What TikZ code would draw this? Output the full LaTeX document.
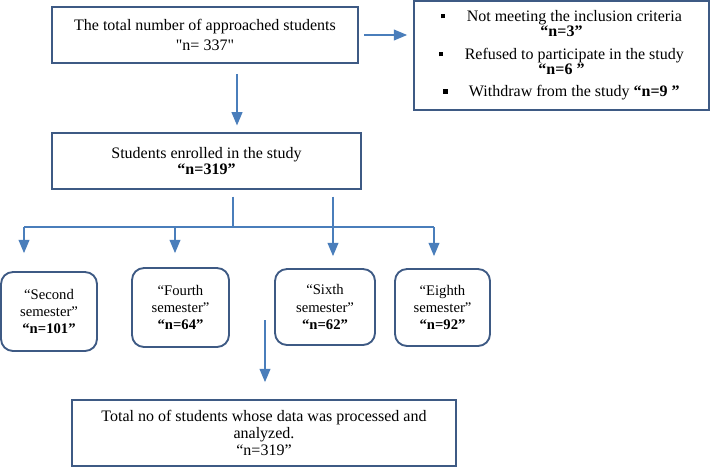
\documentclass[tikz,border=0pt]{standalone}
\usepackage{fontspec}
\setmainfont{Liberation Serif}
\usepackage{tikz}
\usetikzlibrary{arrows}

\definecolor{boxblue}{RGB}{62,90,132}
\definecolor{arrowblue}{RGB}{74,126,187}
\newcommand{\sqbullet}{\raisebox{2.5pt}{\rule{3.2pt}{3.2pt}}\hspace{16pt}}

\begin{document}
\begin{tikzpicture}[x=0.75pt, y=-0.75pt, >=triangle 45, semithick]
  \tikzstyle{every node}=[font=\fontsize{12}{14.5}\selectfont, align=center, inner sep=0pt, text=black]
  \tikzstyle{box}=[draw=boxblue, line width=1.4pt, rectangle]
  \tikzstyle{sem}=[box, rounded corners=9pt, font=\fontsize{11}{13}\selectfont]
  \tikzstyle{line}=[draw=arrowblue, line width=1.3pt]
  \tikzstyle{arr}=[line, ->]

  \useasboundingbox (0,0) rectangle (710,467);

  \node[box, minimum width=229.5pt, minimum height=42pt] (total) at (205,35)
    {The total number of approached students\\\textquotedbl n= 337\textquotedbl};
  \node[box, minimum width=221.25pt, minimum height=82pt] (excl) at (561.5,55.5)
    {\sqbullet Not meeting the inclusion criteria\\[-3pt]
     \textbf{“n=3”}\\[2.5pt]
     \sqbullet Refused to participate in the study\\[-3pt]
     \textbf{“n=6 ”}\\[2pt]
     \sqbullet Withdraw from the study \textbf{“n=9 ”}};
  \node[box, minimum width=231.75pt, minimum height=42pt] (enrolled) at (206.5,161)
    {Students enrolled in the study\\[-3pt]\textbf{“n=319”}};

  \node[sem, minimum width=72pt, minimum height=59.25pt] (sem2) at (49,311.5)
    {“Second\\semester”\\\textbf{“n=101”}};
  \node[sem, minimum width=72.75pt, minimum height=59.25pt] (sem4) at (180.5,307.5)
    {“Fourth\\semester”\\\textbf{“n=64”}};
  \node[sem, minimum width=75pt, minimum height=57pt] (sem6) at (325,307)
    {“Sixth\\semester”\\\textbf{“n=62”}};
  \node[sem, minimum width=71.25pt, minimum height=57.75pt] (sem8) at (442.5,307.5)
    {“Eighth\\semester”\\\textbf{“n=92”}};

  \node[box, minimum width=288pt, minimum height=49.5pt, font=\fontsize{12}{13}\selectfont] (final) at (264,433)
    {Total no of students whose data was processed and\\analyzed.\\“n=319”};

  % branching points
  \coordinate (split) at (233,227);
  \coordinate (b2) at (24,227);
  \coordinate (b4) at (175,227);
  \coordinate (b6) at (333,227);
  \coordinate (b8) at (434,227);
  \coordinate (out) at (265,320);

  \draw[arr, shorten <=4pt, shorten >=4.5pt] (total.east) -- (total.east -| excl.west);
  \draw[arr, shorten <=7.5pt, shorten >=5pt] ([xshift=24pt]total.south) -- ([xshift=24pt]total.south |- enrolled.north);
  \draw[line, shorten <=5pt] (enrolled.south -| split) -- (split);
  \draw[line] (b2) -- (b8);
  \foreach \b/\s/\g in {b2/sem2/13.5pt, b4/sem4/10.5pt, b8/sem8/9pt}
    \draw[arr, shorten >=\g] (\b) -- (\b |- \s.north);
  \draw[arr, shorten <=5pt, shorten >=9pt] (enrolled.south -| b6) -- (b6 |- sem6.north);
  \draw[arr, shorten >=12.75pt] (out) -- (out |- final.north);
\end{tikzpicture}
\end{document}
